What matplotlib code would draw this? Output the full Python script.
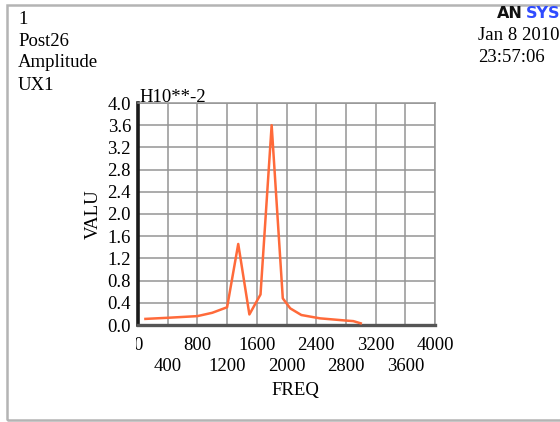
import matplotlib
matplotlib.use("Agg")
import matplotlib.pyplot as plt
from matplotlib.patches import Rectangle
from matplotlib.transforms import Bbox, TransformedBbox

# POST26 amplitude of UX1 versus frequency
freq = [100, 400, 800, 1000, 1200, 1350, 1500, 1650, 1800, 1950, 2050, 2200, 2450, 2800, 2900, 3000]
valu = [0.11, 0.13, 0.16, 0.22, 0.32, 1.46, 0.19, 0.55, 3.60, 0.48, 0.30, 0.18, 0.12, 0.08, 0.07, 0.03]

x_major = [0, 800, 1600, 2400, 3200, 4000]
x_minor = [400, 1200, 2000, 2800, 3600]
y_ticks = [0.0, 0.4, 0.8, 1.2, 1.6, 2.0, 2.4, 2.8, 3.2, 3.6, 4.0]

header_left = ["1", "Post26", "Amplitude", "UX1"]
header_right = ["Jan 8 2010", "23:57:06"]

plt.rcParams['font.family'] = ['Liberation Serif', 'DejaVu Serif']
FS = 13.5

W, H = 560, 422
fig = plt.figure(figsize=(W / 100, H / 100), dpi=100)
fig.patch.set_facecolor('white')

def px(x, y):
    return x / W, 1 - y / H

# outer window frame
fig.patches.append(Rectangle(px(7, 420), (W + 20) / W, 415 / H, transform=fig.transFigure,
                             fill=False, edgecolor='#b4b4b4', linewidth=1.8))

left, right, top, bottom = 138, 435, 103, 325
ax = fig.add_axes([left / W, 1 - bottom / H, (right - left) / W, (bottom - top) / H])
ax.set_xlim(0, 4000)
ax.set_ylim(0, 4.0)

ax.plot(freq, valu, color='#ff6a3a', linewidth=1.8, zorder=3)

ax.set_xticks(x_major)
ax.set_xticks(x_minor, minor=True)
ax.set_xticklabels([str(v) for v in x_major], fontsize=FS)
ax.set_xticklabels([str(v) for v in x_minor], minor=True, fontsize=FS)
ax.set_yticks(y_ticks)
ax.set_yticklabels([f"{v:.1f}" for v in y_ticks], fontsize=FS)

ax.tick_params(axis='x', which='major', length=0, pad=8.5)
ax.tick_params(axis='x', which='minor', length=0, pad=23.5)
ax.tick_params(axis='y', length=0, pad=5)

ax.grid(True, which='both', color='#959595', linewidth=1.1)
ax.set_axisbelow(True)
for s in ('top', 'right'):
    ax.spines[s].set_color('#959595')
    ax.spines[s].set_linewidth(1.1)
ax.spines['left'].set_color('#1a1a1a')
ax.spines['left'].set_linewidth(2.6)
ax.spines['bottom'].set_color('#555555')
ax.spines['bottom'].set_linewidth(2.4)

fig.text(*px(295, 390), "FREQ", fontsize=FS, ha='center', va='center')
fig.text(*px(93, 214), "VALU", fontsize=FS, ha='center', va='center', rotation=90)
fig.text(*px(139, 102), "H10**-2", fontsize=FS, ha='left', va='baseline')

for i, t in enumerate(header_left):
    y = [20, 42, 63, 86][i]
    fig.text(*px(18, y), t, fontsize=FS, ha='left', va='center')
for i, t in enumerate(header_right):
    y = [36, 58][i]
    fig.text(*px(478, y), t, fontsize=FS, ha='left', va='center')

# product logo
fig.text(*px(497, 18), "AN", fontsize=11.5, fontweight='bold', family='DejaVu Sans',
         color='#111111', ha='left', va='baseline')
fig.text(*px(526, 18), "SYS", fontsize=11.5, fontweight='bold', family='DejaVu Sans',
         color='#2f4bff', ha='left', va='baseline')

# the zero label is cut by the plot window edge
fig.canvas.draw()
clip = TransformedBbox(Bbox([[136 / W, 0], [1, 1]]), fig.transFigure)
for tick in ax.xaxis.get_major_ticks()[:1]:
    tick.label1.set_clip_on(True)
    tick.label1.set_clip_box(clip)

fig.savefig('out.png', dpi=100, facecolor='white')
